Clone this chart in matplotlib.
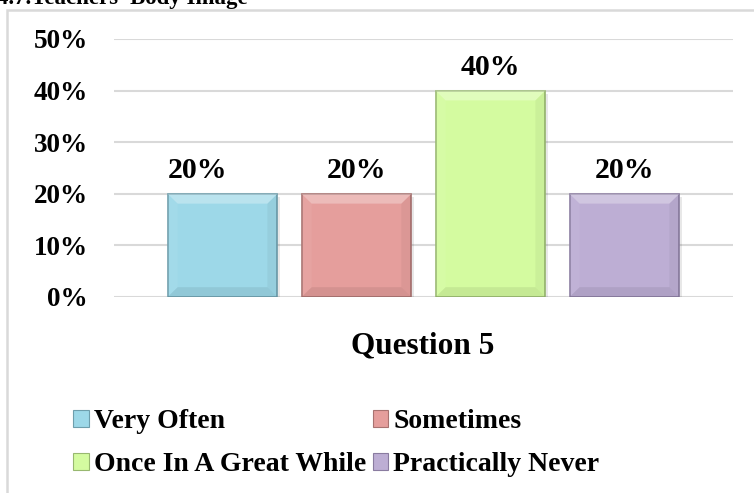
import matplotlib
matplotlib.use("Agg")
import matplotlib.pyplot as plt
from matplotlib.patches import Rectangle, Patch, Polygon
from matplotlib.ticker import FuncFormatter

categories = ["Very Often", "Sometimes", "Once In A Great While", "Practically Never"]
values = [0.20, 0.20, 0.40, 0.20]
colors = ["#9DD8E8", "#E59E9C", "#D4FBA0", "#BDAED4"]
edges = ["#6E9EAC", "#A87270", "#98B870", "#8A7CA0"]
yticks = [0, 0.1, 0.2, 0.3, 0.4, 0.5]
xlabel = "Question 5"
title = "4.7.Teachers' Body Image"
label_dx = [-0.19, 0.0, 0.0, 0.0]   # data-label offsets as in the reference

plt.rcParams['font.family'] = ['Liberation Serif', 'DejaVu Serif']
plt.rcParams['font.weight'] = 'bold'

W, H = 754, 493
fig = plt.figure(figsize=(W/100, H/100), dpi=100)
ax = fig.add_axes([114/W, 1-297/H, (733-114)/W, (297-39)/H])

pos = [i - 1.5 for i in range(len(values))]
width = 0.82
# soft shadow
ax.bar([p + 0.02 for p in pos], values, width=width, bottom=-0.007,
       color="#000000", alpha=0.09, zorder=2, linewidth=0)
bars = ax.bar(pos, values, width=width, color=colors, edgecolor=edges, linewidth=1.2, zorder=3)

# bevel effect
bx, by = 0.075, 0.019
for b in bars:
    x0, w, h = b.get_x(), b.get_width(), b.get_height()
    x1 = x0 + w
    top = Polygon([(x0, h), (x1, h), (x1 - bx, h - by), (x0 + bx, h - by)],
                  closed=True, facecolor='white', alpha=0.30, linewidth=0, zorder=4)
    bot = Polygon([(x0, 0), (x1, 0), (x1 - bx, by), (x0 + bx, by)],
                  closed=True, facecolor='black', alpha=0.07, linewidth=0, zorder=4)
    right = Polygon([(x1, 0), (x1, h), (x1 - bx, h - by), (x1 - bx, by)],
                    closed=True, facecolor='black', alpha=0.045, linewidth=0, zorder=4)
    left = Polygon([(x0, 0), (x0, h), (x0 + bx, h - by), (x0 + bx, by)],
                   closed=True, facecolor='white', alpha=0.06, linewidth=0, zorder=4)
    for p in (top, bot, right, left):
        ax.add_patch(p)

for p, v, dx in zip(pos, values, label_dx):
    ax.text(p + dx, v + 0.031, f"{int(round(v*100))}%", ha='center', va='baseline',
            fontsize=21.5, fontweight='bold')

ax.set_ylim(0, 0.5)
ax.set_xlim(-2.31, 2.31)
ax.set_yticks(yticks)
ax.yaxis.set_major_formatter(FuncFormatter(lambda v, _: f"{int(round(v*100))}%"))
ax.tick_params(axis='y', length=0, pad=19, labelsize=19.5)
ax.tick_params(axis='x', length=0, labelbottom=False)
for lab in ax.get_yticklabels():
    lab.set_fontweight('bold')
ax.grid(axis='y', color='#D9D9D9', linewidth=1.5, zorder=0)
for s in ax.spines.values():
    s.set_visible(False)
ax.set_axisbelow(True)

fig.text(423/W, 1-353/H, xlabel, ha='center', va='baseline', fontsize=22.5, fontweight='bold')

# outer frame
fig.patches.append(Rectangle((7/W, -0.1), 1.2, 1 - 10/H + 0.1, transform=fig.transFigure,
                             fill=False, edgecolor='#D9D9D9', linewidth=1.8))
fig.text(-3/W, 1-4/H, title, ha='left', va='baseline', fontsize=16.5, fontweight='bold')

handles = [Patch(facecolor=c, edgecolor=e, linewidth=0.8) for c, e in zip(colors, edges)]
order = [0, 2, 1, 3]
leg = fig.legend([handles[i] for i in order], [categories[i] for i in order],
                 ncol=2, loc='upper left', bbox_to_anchor=(62/W, 1-398/H),
                 frameon=False, prop={'size': 20, 'weight': 'bold'},
                 handlelength=0.56, handleheight=0.56, handletextpad=0.18,
                 columnspacing=0.25, labelspacing=0.66, borderaxespad=0)

fig.savefig("out.png", dpi=100)
